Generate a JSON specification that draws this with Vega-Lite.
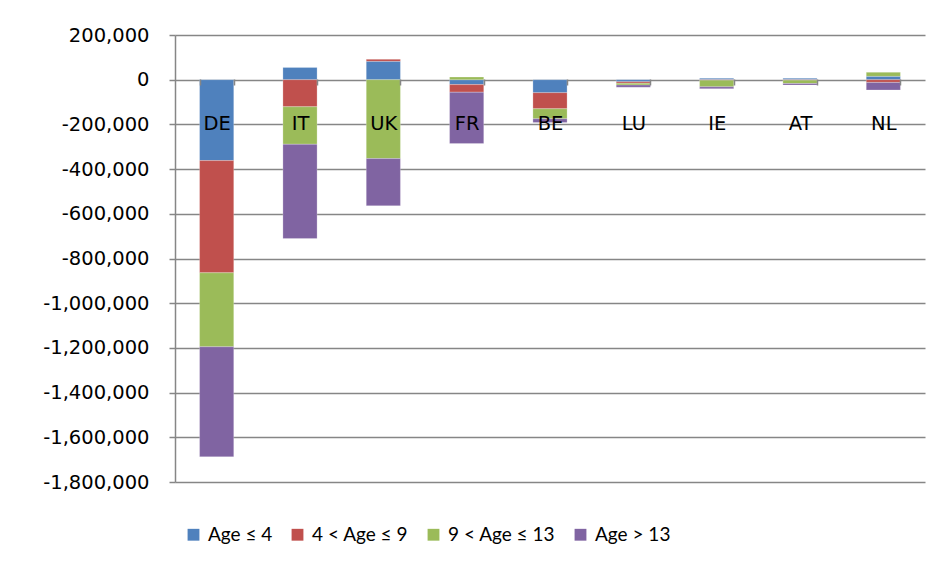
{
  "$schema": "https://vega.github.io/schema/vega-lite/v6.json",
  "width": 750,
  "height": 447,
  "autosize": {"type": "none"},
  "padding": {"left": 175, "top": 35, "right": 20, "bottom": 90},
  "background": "white",
  "data": {
    "values": [
      {"country": "DE", "group": "Age ≤ 4", "o": 1, "value": -362000},
      {"country": "DE", "group": "4 < Age ≤ 9", "o": 2, "value": -502000},
      {"country": "DE", "group": "9 < Age ≤ 13", "o": 3, "value": -331000},
      {"country": "DE", "group": "Age > 13", "o": 4, "value": -492000},
      {"country": "IT", "group": "Age ≤ 4", "o": 1, "value": 55000},
      {"country": "IT", "group": "4 < Age ≤ 9", "o": 2, "value": -121000},
      {"country": "IT", "group": "9 < Age ≤ 13", "o": 3, "value": -168000},
      {"country": "IT", "group": "Age > 13", "o": 4, "value": -422000},
      {"country": "UK", "group": "Age ≤ 4", "o": 1, "value": 82000},
      {"country": "UK", "group": "4 < Age ≤ 9", "o": 2, "value": 9000},
      {"country": "UK", "group": "9 < Age ≤ 13", "o": 3, "value": -353000},
      {"country": "UK", "group": "Age > 13", "o": 4, "value": -211000},
      {"country": "FR", "group": "Age ≤ 4", "o": 1, "value": -22000},
      {"country": "FR", "group": "4 < Age ≤ 9", "o": 2, "value": -34000},
      {"country": "FR", "group": "9 < Age ≤ 13", "o": 3, "value": 12000},
      {"country": "FR", "group": "Age > 13", "o": 4, "value": -230000},
      {"country": "BE", "group": "Age ≤ 4", "o": 1, "value": -58000},
      {"country": "BE", "group": "4 < Age ≤ 9", "o": 2, "value": -72000},
      {"country": "BE", "group": "9 < Age ≤ 13", "o": 3, "value": -45000},
      {"country": "BE", "group": "Age > 13", "o": 4, "value": -17000},
      {"country": "LU", "group": "Age ≤ 4", "o": 1, "value": -9000},
      {"country": "LU", "group": "4 < Age ≤ 9", "o": 2, "value": -7000},
      {"country": "LU", "group": "9 < Age ≤ 13", "o": 3, "value": -8000},
      {"country": "LU", "group": "Age > 13", "o": 4, "value": -10000},
      {"country": "IE", "group": "Age ≤ 4", "o": 1, "value": 6000},
      {"country": "IE", "group": "4 < Age ≤ 9", "o": 2, "value": -2000},
      {"country": "IE", "group": "9 < Age ≤ 13", "o": 3, "value": -30000},
      {"country": "IE", "group": "Age > 13", "o": 4, "value": -8000},
      {"country": "AT", "group": "Age ≤ 4", "o": 1, "value": 6000},
      {"country": "AT", "group": "4 < Age ≤ 9", "o": 2, "value": -2000},
      {"country": "AT", "group": "9 < Age ≤ 13", "o": 3, "value": -15000},
      {"country": "AT", "group": "Age > 13", "o": 4, "value": -7000},
      {"country": "NL", "group": "Age ≤ 4", "o": 1, "value": 15000},
      {"country": "NL", "group": "4 < Age ≤ 9", "o": 2, "value": -12000},
      {"country": "NL", "group": "9 < Age ≤ 13", "o": 3, "value": 18000},
      {"country": "NL", "group": "Age > 13", "o": 4, "value": -34000}
    ]
  },
  "mark": {"type": "bar", "stroke": "white", "strokeWidth": 0.4, "strokeOpacity": 0.6},
  "encoding": {
    "x": {
      "field": "country",
      "type": "nominal",
      "sort": ["DE", "IT", "UK", "FR", "BE", "LU", "IE", "AT", "NL"],
      "scale": {"paddingInner": 0.59, "paddingOuter": 0.295},
      "axis": {
        "title": null,
        "orient": "bottom",
        "offset": -403,
        "zindex": 1,
        "domain": false,
        "labelAngle": 0,
        "tickBand": "extent",
        "tickSize": 6,
        "tickColor": "#868686",
        "tickWidth": 1.5,
        "labelPadding": 29,
        "labelFont": "DejaVu Sans",
        "labelFontSize": 19.5,
        "labelColor": "#000000",
        "grid": false
      }
    },
    "y": {
      "field": "value",
      "type": "quantitative",
      "stack": "zero",
      "scale": {"domain": [-1800000, 200000], "nice": false, "zero": false},
      "axis": {
        "title": null,
        "values": [200000, 0, -200000, -400000, -600000, -800000, -1000000, -1200000, -1400000, -1600000, -1800000],
        "labelExpr": "replace(format(datum.value, ',.0f'), '\u2212', '-')",
        "grid": true,
        "gridColor": "#868686",
        "gridWidth": 1.5,
        "domainColor": "#868686",
        "domainWidth": 1.5,
        "tickColor": "#868686",
        "tickWidth": 1.5,
        "tickSize": 6,
        "labelPadding": 20,
        "labelFont": "DejaVu Sans",
        "labelFontSize": 19.5,
        "labelColor": "#000000"
      }
    },
    "color": {
      "field": "group",
      "type": "nominal",
      "scale": {
        "domain": ["Age ≤ 4", "4 < Age ≤ 9", "9 < Age ≤ 13", "Age > 13"],
        "range": ["#4F81BD", "#C0504D", "#9BBB59", "#8064A2"]
      },
      "legend": {
        "title": null,
        "orient": "none",
        "direction": "horizontal",
        "legendX": 9,
        "legendY": 490,
        "symbolType": "square",
        "symbolSize": 140,
        "symbolStrokeWidth": 0,
        "labelFont": "Lato",
        "labelFontSize": 19,
        "labelColor": "#000000",
        "labelOffset": 5,
        "columnPadding": 15
      }
    },
    "order": {"field": "o", "type": "quantitative"}
  },
  "config": {"view": {"stroke": null}}
}
